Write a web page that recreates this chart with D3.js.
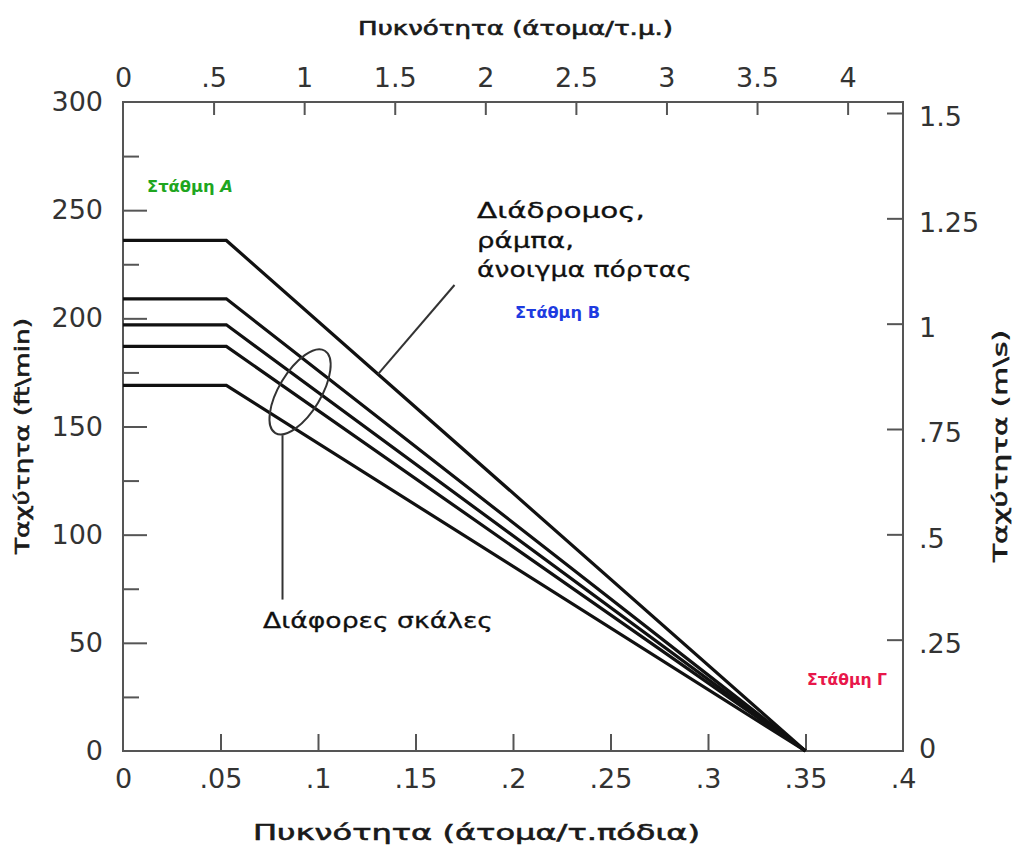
<!DOCTYPE html>
<html>
<head>
<meta charset="utf-8">
<script src="https://cdn.jsdelivr.net/npm/d3@7"></script>
<style>
  html, body { margin: 0; padding: 0; background: #fff; }
  svg { display: block; }
</style>
</head>
<body>
<div id="chart"></div>
<script>
// ---------------- data ----------------
const curveNames = ["Διάδρομος, ράμπα, άνοιγμα πόρτας", "Σκάλα 1", "Σκάλα 2", "Σκάλα 3", "Σκάλα 4"];
const flatSpeeds = [236, 209, 197, 187, 169];          // ft/min, speed at low density
const densityBreaks = [0, 0.053, 0.35];                 // persons/ft²: start, end of plateau, zero speed
const bottomTicks = [0, 0.05, 0.1, 0.15, 0.2, 0.25, 0.3, 0.35, 0.4];
const bottomTickLabels = ["0", ".05", ".1", ".15", ".2", ".25", ".3", ".35", ".4"];
const topTicks = [0, 0.5, 1, 1.5, 2, 2.5, 3, 3.5, 4];
const topTickLabels = ["0", ".5", "1", "1.5", "2", "2.5", "3", "3.5", "4"];
const leftMajorTicks = [0, 50, 100, 150, 200, 250, 300];
const leftMinorTicks = [25, 75, 125, 175, 225, 275];
const rightTicks = [0, 0.25, 0.5, 0.75, 1, 1.25, 1.5];
const rightTickLabels = ["0", ".25", ".5", ".75", "1", "1.25", "1.5"];
const sqftPerSqm = 0.0929;

// ---------------- layout ----------------
const W = 1016, H = 846;
const m = { left: 123, right: 113, top: 102, bottom: 95 };
const svg = d3.select("#chart").append("svg").attr("width", W).attr("height", H);

const x = d3.scaleLinear().domain([0, 0.4]).range([m.left, W - m.right]);
const y = d3.scaleLinear().domain([0, 300]).range([H - m.bottom, m.top]);
const xTop = d3.scaleLinear().domain([0, 0.4 / sqftPerSqm]).range([m.left, W - m.right]);
const yRight = d3.scaleLinear().domain([0, 1.5]).range([H - m.bottom - 6, m.top + 11]);

const axisColor = "#555";
const tickFont = "DejaVu Sans, sans-serif";

// frame
const g = svg.append("g");
g.append("rect").attr("x", x(0)).attr("y", y(300)).attr("width", x(0.4) - x(0)).attr("height", y(0) - y(300))
  .attr("fill", "none").attr("stroke", axisColor).attr("stroke-width", 2);

function styleAxis(sel) {
  sel.select(".domain").remove();
  sel.selectAll(".tick line").attr("stroke", axisColor).attr("stroke-width", 2);
  sel.selectAll(".tick text").attr("fill", "#333").style("font-family", tickFont).style("font-size", "27px");
}

// bottom axis
g.append("g").attr("transform", `translate(0,${y(0)})`)
  .call(d3.axisBottom(x).tickValues(bottomTicks).tickSize(-17).tickPadding(18)
    .tickFormat((d, i) => bottomTickLabels[i]))
  .call(styleAxis)
  .call(s => s.selectAll(".tick").filter(d => d === 0 || d === 0.4).select("line").remove());

// top axis
g.append("g").attr("transform", `translate(0,${y(300)})`)
  .call(d3.axisTop(xTop).tickValues(topTicks).tickSize(-13).tickPadding(15)
    .tickFormat((d, i) => topTickLabels[i]))
  .call(styleAxis)
  .call(s => s.selectAll(".tick").filter(d => d === 0).select("line").remove());

// left axis
g.append("g").attr("transform", `translate(${x(0)},0)`)
  .call(d3.axisLeft(y).tickValues(leftMajorTicks).tickSize(-24).tickPadding(20))
  .call(styleAxis)
  .call(s => s.selectAll(".tick").filter(d => d === 0 || d === 300).select("line").remove());
g.append("g").attr("transform", `translate(${x(0)},0)`)
  .call(d3.axisLeft(y).tickValues(leftMinorTicks).tickSize(-16).tickFormat(""))
  .call(styleAxis);

// right axis
g.append("g").attr("transform", `translate(${x(0.4)},0)`)
  .call(d3.axisRight(yRight).tickValues(rightTicks).tickSize(-16).tickPadding(16)
    .tickFormat((d, i) => rightTickLabels[i]))
  .call(styleAxis)
  .call(s => s.selectAll(".tick text").attr("dy", "0.47em"))
  .call(s => s.selectAll(".tick").filter(d => d === 0).select("line").remove());

// ---------------- curves ----------------
const line = d3.line().x(d => x(d[0])).y(d => y(d[1]));
const series = flatSpeeds.map((v, i) => ({
  name: curveNames[i],
  pts: [[densityBreaks[0], v], [densityBreaks[1], v], [densityBreaks[2], 0]]
}));
g.selectAll(".curve").data(series).join("path")
  .attr("class", "curve")
  .attr("d", d => line(d.pts))
  .attr("fill", "none").attr("stroke", "#111").attr("stroke-width", 3.2)
  .attr("stroke-linejoin", "miter");

function speedOn(i, dens) {
  const v = flatSpeeds[i];
  if (dens <= densityBreaks[1]) return v;
  return v * (densityBreaks[2] - dens) / (densityBreaks[2] - densityBreaks[1]);
}

// ---------------- annotations ----------------
const titleFont = "DejaVu Sans, sans-serif";
function fitText(sel, width) {
  sel.attr("textLength", width).attr("lengthAdjust", "spacingAndGlyphs");
}
function semiBold(sel, c) {
  sel.attr("fill", c).attr("stroke", c).attr("stroke-width", 0.6).style("font-weight", "normal");
}

// axis titles
svg.append("text").attr("x", 358).attr("y", 35).text("Πυκνότητα (άτομα/τ.μ.)")
  .style("font-family", titleFont).style("font-size", "19px")
  .call(semiBold, "#1a1a1a").call(fitText, 315);
svg.append("text").attr("x", 253).attr("y", 840).text("Πυκνότητα (άτομα/τ.πόδια)")
  .style("font-family", titleFont).style("font-size", "22px")
  .call(semiBold, "#1a1a1a").call(fitText, 447);
svg.append("text").attr("transform", "translate(29,554) rotate(-90)").text("Ταχύτητα (ft\\min)")
  .style("font-family", titleFont).style("font-size", "20px")
  .call(semiBold, "#1a1a1a").call(fitText, 236);
svg.append("text").attr("transform", "translate(1007,562) rotate(-90)").text("Ταχύτητα (m\\s)")
  .style("font-family", titleFont).style("font-size", "20px")
  .call(semiBold, "#1a1a1a").call(fitText, 232);

// corridor label and leader
const corrLines = ["Διάδρομος,", "ράμπα,", "άνοιγμα πόρτας"];
const corrWidths = [168, 97, 215];
const corrBase = [218, 248, 277];
corrLines.forEach((t, i) => {
  svg.append("text").attr("x", 477).attr("y", corrBase[i]).text(t)
    .style("font-family", titleFont).style("font-size", "22px")
    .call(semiBold, "#111").attr("stroke-width", 0.3)
    .call(fitText, corrWidths[i]);
});
const leaderDens = 0.1308;
svg.append("line")
  .attr("x1", x(0.170)).attr("y1", y(215.4))
  .attr("x2", x(leaderDens)).attr("y2", y(speedOn(0, leaderDens)))
  .attr("stroke", "#333").attr("stroke-width", 2);

// stairs ellipse and leader
const ex = x(0.0908), ey = y(166);
svg.append("ellipse").attr("cx", ex).attr("cy", ey).attr("rx", 21).attr("ry", 48)
  .attr("transform", `rotate(31,${ex},${ey})`)
  .attr("fill", "none").attr("stroke", "#333").attr("stroke-width", 2);
svg.append("line")
  .attr("x1", x(0.0818)).attr("y1", y(146))
  .attr("x2", x(0.0818)).attr("y2", y(70))
  .attr("stroke", "#333").attr("stroke-width", 2);
svg.append("text").attr("x", 263).attr("y", 628).text("Διάφορες σκάλες")
  .style("font-family", titleFont).style("font-size", "22px")
  .call(semiBold, "#111").attr("stroke-width", 0.3)
  .call(fitText, 230);

// level labels
const levelNames = [["Στάθμη ", "A"], ["Στάθμη ", "Β"], ["Στάθμη ", "Γ"]];
const levelColors = ["#1fa61f", "#1e3be0", "#e8174a"];
const levelPos = [[147, 192, 86], [515, 318, 85], [807, 685, 80]];
levelNames.forEach((n, i) => {
  const t = svg.append("text").attr("x", levelPos[i][0]).attr("y", levelPos[i][1])
    .style("font-family", titleFont).style("font-size", "15px").style("font-weight", "bold")
    .attr("fill", levelColors[i]);
  t.append("tspan").text(n[0]);
  t.append("tspan").text(n[1]).style("font-style", i === 0 ? "italic" : "normal");
  t.call(fitText, levelPos[i][2]);
});
</script>
</body>
</html>
